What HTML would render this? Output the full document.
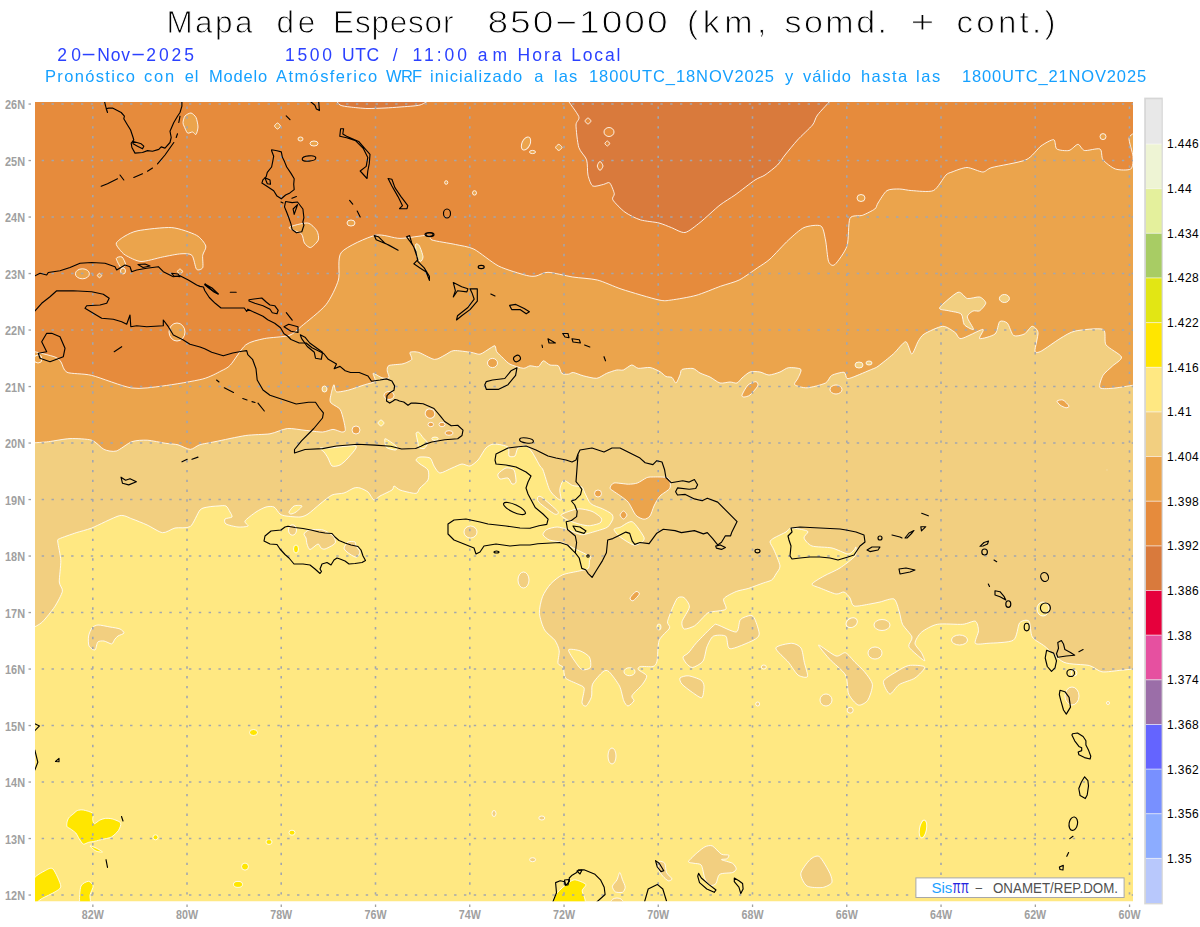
<!DOCTYPE html><html><head><meta charset="utf-8"><style>html,body{margin:0;padding:0;background:#fff;overflow:hidden}svg{display:block}text{font-family:"Liberation Sans",sans-serif}</style></head><body>
<svg width="1200" height="927" viewBox="0 0 1200 927">
<rect width="1200" height="927" fill="#fff"/>
<g opacity="0.995">
<text transform="translate(166.4 32.9) scale(1.0 1)" x="0" y="0" font-size="31.5" fill="#000" textLength="86.1" lengthAdjust="spacing" stroke="#fff" stroke-width="0.9">Mapa</text>
<text transform="translate(276.4 32.9) scale(1.0 1)" x="0" y="0" font-size="31.5" fill="#000" textLength="38.8" lengthAdjust="spacing" stroke="#fff" stroke-width="0.9">de</text>
<text transform="translate(333.1 32.9) scale(1.0 1)" x="0" y="0" font-size="31.5" fill="#000" textLength="120.3" lengthAdjust="spacing" stroke="#fff" stroke-width="0.9">Espesor</text>
<text transform="translate(487.5 32.9) scale(1.18 1)" x="0" y="0" font-size="31.5" fill="#000" textLength="152.6" lengthAdjust="spacing" stroke="#fff" stroke-width="0.9">850−1000</text>
<text transform="translate(687 32.9) scale(1.08 1)" x="0" y="0" font-size="31.5" fill="#000" textLength="73.5" lengthAdjust="spacing" stroke="#fff" stroke-width="0.9">(km,</text>
<text transform="translate(784.4 32.9) scale(1.08 1)" x="0" y="0" font-size="31.5" fill="#000" textLength="95" lengthAdjust="spacing" stroke="#fff" stroke-width="0.9">somd.</text>
<text transform="translate(910.6 32.9) scale(1.3 1)" x="0" y="0" font-size="31.5" fill="#000" textLength="15.5" lengthAdjust="spacing" stroke="#fff" stroke-width="0.9">+</text>
<text transform="translate(956.4 32.9) scale(1.05 1)" x="0" y="0" font-size="31.5" fill="#000" textLength="94.4" lengthAdjust="spacing" stroke="#fff" stroke-width="0.9">cont.)</text>
<text transform="translate(57.2 61) scale(1.0 1)" x="0" y="0" font-size="17.5" fill="#2a40ff" textLength="23.9" lengthAdjust="spacing">20</text>
<text transform="translate(97.2 61) scale(1.0 1)" x="0" y="0" font-size="17.5" fill="#2a40ff" textLength="32.8" lengthAdjust="spacing">Nov</text>
<text transform="translate(146.2 61) scale(1.0 1)" x="0" y="0" font-size="17.5" fill="#2a40ff" textLength="47.8" lengthAdjust="spacing">2025</text>
<text transform="translate(285.1 61) scale(1.0 1)" x="0" y="0" font-size="17.5" fill="#2a40ff" textLength="46.9" lengthAdjust="spacing">1500</text>
<text transform="translate(342 61) scale(1.0 1)" x="0" y="0" font-size="17.5" fill="#2a40ff" textLength="37.1" lengthAdjust="spacing">UTC</text>
<text transform="translate(392.8 61) scale(1.0 1)" x="0" y="0" font-size="17.5" fill="#2a40ff" textLength="11.6" lengthAdjust="spacing">/</text>
<text transform="translate(412.5 61) scale(1.0 1)" x="0" y="0" font-size="17.5" fill="#2a40ff" textLength="54.6" lengthAdjust="spacing">11:00</text>
<text transform="translate(477.8 61) scale(1.0 1)" x="0" y="0" font-size="17.5" fill="#2a40ff" textLength="29.2" lengthAdjust="spacing">am</text>
<text transform="translate(517.5 61) scale(1.0 1)" x="0" y="0" font-size="17.5" fill="#2a40ff" textLength="44" lengthAdjust="spacing">Hora</text>
<text transform="translate(571.2 61) scale(1.0 1)" x="0" y="0" font-size="17.5" fill="#2a40ff" textLength="49.2" lengthAdjust="spacing">Local</text>
<text transform="translate(45 82) scale(1.0 1)" x="0" y="0" font-size="16.5" fill="#14a0ff" textLength="90" lengthAdjust="spacing">Pronóstico</text>
<text transform="translate(144 82) scale(1.0 1)" x="0" y="0" font-size="16.5" fill="#14a0ff" textLength="30.1" lengthAdjust="spacing">con</text>
<text transform="translate(184.8 82) scale(1.0 1)" x="0" y="0" font-size="16.5" fill="#14a0ff" textLength="13.5" lengthAdjust="spacing">el</text>
<text transform="translate(209 82) scale(1.0 1)" x="0" y="0" font-size="16.5" fill="#14a0ff" textLength="58.2" lengthAdjust="spacing">Modelo</text>
<text transform="translate(276.1 82) scale(1.0 1)" x="0" y="0" font-size="16.5" fill="#14a0ff" textLength="101" lengthAdjust="spacing">Atmósferico</text>
<text transform="translate(386.1 82) scale(1.0 1)" x="0" y="0" font-size="16.5" fill="#14a0ff" textLength="36.1" lengthAdjust="spacing">WRF</text>
<text transform="translate(430.1 82) scale(1.0 1)" x="0" y="0" font-size="16.5" fill="#14a0ff" textLength="92" lengthAdjust="spacing">inicializado</text>
<text transform="translate(534.3 82) scale(1.0 1)" x="0" y="0" font-size="16.5" fill="#14a0ff" textLength="8.3" lengthAdjust="spacing">a</text>
<text transform="translate(553.9 82) scale(1.0 1)" x="0" y="0" font-size="16.5" fill="#14a0ff" textLength="23.3" lengthAdjust="spacing">las</text>
<text transform="translate(589 82) scale(1.0 1)" x="0" y="0" font-size="16.5" fill="#14a0ff" textLength="184.9" lengthAdjust="spacing">1800UTC_18NOV2025</text>
<text transform="translate(785.1 82) scale(1.0 1)" x="0" y="0" font-size="16.5" fill="#14a0ff" textLength="11.7" lengthAdjust="spacing">y</text>
<text transform="translate(802.9 82) scale(1.0 1)" x="0" y="0" font-size="16.5" fill="#14a0ff" textLength="48.1" lengthAdjust="spacing">válido</text>
<text transform="translate(861 82) scale(1.0 1)" x="0" y="0" font-size="16.5" fill="#14a0ff" textLength="46.1" lengthAdjust="spacing">hasta</text>
<text transform="translate(916 82) scale(1.0 1)" x="0" y="0" font-size="16.5" fill="#14a0ff" textLength="24.2" lengthAdjust="spacing">las</text>
<text transform="translate(961.9 82) scale(1.0 1)" x="0" y="0" font-size="16.5" fill="#14a0ff" textLength="184.2" lengthAdjust="spacing">1800UTC_21NOV2025</text>
<rect x="82.75" y="53.8" width="11.65" height="1.5" fill="#2a40ff"/><rect x="132.5" y="53.8" width="11.25" height="1.5" fill="#2a40ff"/>
</g>
<defs><clipPath id="mc"><rect x="35" y="102" width="1098" height="799.2"/></clipPath></defs>
<g clip-path="url(#mc)">
<rect x="35" y="100" width="1098" height="802" fill="#ffe882"/>
<path d="M32 628.3C33.3 627.5 39.5 624.7 42.3 622C45.1 619.3 52.2 610.5 54.7 606.7C57.2 602.9 61.8 594.4 62.4 591.3C63 588.2 59.5 585.9 59.3 582C59.1 578.1 61 565.4 60.8 560.4C60.6 555.4 57.9 544.7 57.8 542C57.6 539.3 57 540 59.3 538.8C61.6 537.6 72.2 534.1 76.2 532.7C80.3 531.4 86.3 530.1 91.7 528C97.1 525.9 114.4 516.9 119.4 515.7C124.4 514.6 128.3 517.6 131.8 518.8C135.3 520 143.3 523.3 147.2 525C151 526.7 159.1 532.3 162.6 532.7C166.1 533.1 171.5 528.8 175 528C178.5 527.2 187.2 528.8 190.3 526.5C193.4 524.2 197.8 512.4 200 510C202.2 507.6 205.8 507.5 208 507C210.2 506.5 215.8 506.1 218 506C220.2 505.9 224.5 505.2 226 506C227.5 506.8 229.2 510.6 230 512C230.8 513.4 232.6 516.1 232 517C231.4 517.9 225.8 518.1 225 519C224.2 519.9 224.4 523 226 524C227.6 525 235.2 526.8 238 527C240.8 527.2 247.1 526.8 248 526C248.9 525.2 244 522.8 245 521C246 519.2 253.4 513.8 256 512C258.6 510.2 263.8 507.6 266 507C268.2 506.4 272.2 506.1 274 507C275.8 507.9 278.5 512.9 280 514C281.5 515.1 283.5 515.6 286 516C288.5 516.4 297.2 517.2 300 517C302.8 516.8 305.5 515.6 308 514C310.5 512.4 317 506.4 320 504C323 501.6 329 496.4 332 495C335 493.6 341.2 493.9 344 493C346.8 492.1 352 488.6 354 488C356 487.4 358.2 487.5 360 488C361.8 488.5 366.2 490.5 368 492C369.8 493.5 372.5 499.5 374 500C375.5 500.5 377.8 497.2 380 496C382.2 494.8 390.2 491.2 392 490C393.8 488.8 393 486 394 486C395 486 397.8 489.1 400 490C402.2 490.9 409.9 492.6 412 493C414.1 493.4 416 493.6 417 493C418 492.4 418.6 489.6 420 488C421.4 486.4 427 482.2 428 480C429 477.8 429 472 428 470C427 468 421.5 465.2 420 464C418.5 462.8 416 460.9 416 460C416 459.1 418.2 457.2 420 457C421.8 456.8 428.2 456.9 430 458C431.8 459.1 432.8 464.1 434 466C435.2 467.9 437.8 472.8 440 473C442.2 473.2 449.2 469.1 452 468C454.8 466.9 459.8 464.2 462 464C464.2 463.8 468 466.5 470 466C472 465.5 476 462.2 478 460C480 457.8 484 450 486 448C488 446 491.2 444.1 494 444C496.8 443.9 506.1 445.5 508 447C509.9 448.5 508.1 454.9 509 456C509.9 457.1 513.9 457 515 456C516.1 455 516.6 449.2 518 448C519.4 446.8 524.2 445.5 526 446C527.8 446.5 530.2 449.5 532 452C533.8 454.5 538.6 463.8 540 466C541.4 468.2 541.8 467.1 543 470C544.2 472.9 547.8 486 549.4 489.4C551 492.8 554.5 495.9 556 497.2C557.5 498.5 560.5 500.8 561 499.8C561.5 498.8 559.5 491.8 559.8 489.4C560.1 487 562.1 480.9 563.7 480.4C565.3 479.9 570.4 484.7 572.7 485.5C575 486.3 580.3 486 581.8 486.8C583.3 487.6 583.3 489.9 584.4 492C585.5 494.1 588.5 501.6 590.8 503.7C593.1 505.8 599.9 507.5 602.5 508.8C605.1 510.1 610.3 512.7 611.6 514C612.9 515.3 613.3 517.6 612.8 519.2C612.3 520.8 609.6 525.5 607.7 527C605.8 528.5 599.7 530 597.3 530.8C594.9 531.6 590.2 532.9 588.3 533.4C586.4 533.9 583.6 534.9 581.8 534.7C580 534.5 575.8 532.8 574 532.1C572.2 531.5 569.6 530.1 567.5 529.5C565.4 528.9 559.8 527 557.2 527C554.6 527 548.6 528.5 546.8 529.5C545 530.5 542.7 533.4 543 534.7C543.3 536 547 539 549.4 540C551.8 541 559.2 541.4 562.4 542.5C565.6 543.6 572.4 547.5 575.3 549C578.2 550.5 583.8 553.1 585.7 554.1C587.6 555.1 590.3 555.9 590.8 556.7C591.3 557.5 589.8 559.1 589.5 560.6C589.2 562.1 589.6 567.1 588.3 568.4C587 569.7 582.4 570.2 579.2 571C576 571.8 566 573.3 562.4 574.9C558.8 576.5 553.2 581.2 550.7 583.9C548.2 586.6 543.9 593 542.5 596.7C541.1 600.4 539.1 609.1 539.4 613.3C539.7 617.5 542.6 626.6 544.6 630C546.6 633.4 553.2 637.8 555 640.4C556.8 643 558.8 647.9 559.2 650.8C559.6 653.7 557.5 661.2 558 663.3C558.5 665.4 562.4 665.7 563.3 667.5C564.2 669.3 563.6 675.8 565.4 677.9C567.2 680 575.6 682.9 578 684.2C580.4 685.5 583.7 686 584.2 688.3C584.7 690.6 581.7 700.7 582 702.9C582.3 705.1 585.1 706.8 586.2 706C587.4 705.2 590.7 699.4 591.5 696.7C592.3 694 591.1 687.3 592.5 684.2C593.9 681.1 600.9 673.3 603 671.7C605.1 670.1 606.9 669.9 609 671.7C611.1 673.5 617.8 682.6 619.6 686.2C621.4 689.9 622.7 698.3 623.8 700.8C624.8 703.3 626.7 706 628 706C629.3 706 633.5 702.1 634 700.8C634.5 699.5 630.9 697.7 632 695.6C633.1 693.5 640.7 686.7 642.5 684.2C644.3 681.7 647.2 677.6 646.7 675.8C646.2 674 639.1 670.8 638.3 669.6C637.5 668.4 638.6 666.9 640.4 666.5C642.2 666.1 650.9 667.2 653 666.5C655.1 665.8 656.2 664.5 657 661.2C657.8 658 657.6 644.6 659.2 640.4C660.8 636.2 668.6 630.3 669.6 628C670.6 625.7 667 624.6 667.5 621.7C668 618.8 672.4 608 673.8 605C675.1 602 676.7 598.6 678 597.7C679.3 596.8 682.8 596.5 684.2 597.7C685.6 598.9 689.7 604 689.4 607C689.1 610 682.6 619 682 621.7C681.4 624.5 682.6 628.5 684.2 629C685.8 629.5 692.2 627.2 694.6 625.8C697 624.4 701.2 619.2 703 617.5C704.8 615.8 706.4 613.3 709.2 612.3C712.1 611.3 724 610.9 725.8 609.2C727.6 607.5 722.4 601 723.8 598.8C725.1 596.5 733.1 592.8 736.2 591.5C739.4 590.2 745.4 589.4 748.8 588.3C752.1 587.2 760.4 584 763.3 583C766.2 582 770.1 581.1 771.7 580C773.3 578.9 775 575.8 776 574C777 572.2 780.2 569 780 566C779.8 563 775.2 553 774 550C772.8 547 770 543.5 770 542C770 540.5 772 539.2 774 538C776 536.8 783.9 533.2 786 532C788.1 530.8 788.8 528.2 791 528C793.2 527.8 801.9 529.5 804 530C806.1 530.5 808 531 808 532C808 533 803.5 536.2 804 538C804.5 539.8 808.5 544.8 812 546C815.5 547.2 827.5 547 832 548C836.5 549 845.2 553.8 848 554C850.8 554.2 853 550.9 854 550C855 549.1 855.9 546.2 856 547C856.1 547.8 857 553.4 855 556C853 558.6 843.9 565.5 840 568C836.1 570.5 827.5 574 824 576C820.5 578 812.5 582.5 812 584C811.5 585.5 817 586.8 820 588C823 589.2 833 593.5 836 594C839 594.5 842.2 591.5 844 592C845.8 592.5 848.8 596.2 850 598C851.2 599.8 851.5 605.2 854 606C856.5 606.8 866.8 604.5 870 604C873.2 603.5 877 602.6 880 602C883 601.4 891.6 597.8 894 599C896.4 600.2 898.2 608.5 899.3 611.7C900.4 614.9 900.9 621.1 902.5 624.3C904.1 627.5 911.2 634.2 912 637C912.8 639.8 908 644.1 908.8 646.5C909.6 648.9 916.3 654.2 918.3 656C920.3 657.8 924.3 661.1 924.7 660.8C925.1 660.4 922.7 655 921.5 652.8C920.3 650.6 915 645.9 915 643.3C915 640.7 918.7 634.6 921.5 632.2C924.3 629.9 932.1 625.3 937.3 624.3C942.4 623.3 958 624.7 962.7 624.3C967.5 623.9 973.3 620.4 975.3 621.2C977.3 622 978.5 627.9 978.5 630.7C978.5 633.5 974.1 641.7 975.3 643.3C976.5 644.9 983.2 643.7 988 643.3C992.8 642.9 1009.3 642.8 1013.3 640.2C1017.3 637.6 1017.7 625.1 1019.7 622.8C1021.7 620.4 1027.4 619.4 1029 621.2C1030.6 623 1030.3 633.8 1032.3 637C1034.3 640.2 1041 643.3 1045 646.5C1049 649.7 1058.5 659.9 1064 662.3C1069.5 664.7 1084.5 664.3 1089.3 665.5C1094 666.7 1098 671.2 1102 671.8C1106 672.4 1116.8 670.6 1121 670.2C1125.2 669.9 1134.1 668.9 1136 668.7L1136 98.5L32 98.5Z" fill="#f2cf80" stroke="#fff" stroke-opacity="0.85" stroke-width="1"/>
<path d="M320 448C320.8 447.5 325.5 448.2 330 448C334.5 447.8 353.8 444.8 356 446C358.2 447.2 350 455.6 348 458C346 460.4 342 464 340 465C338 466 333.5 466.9 332 466C330.5 465.1 329 459.8 328 458C327 456.2 325 453.2 324 452C323 450.8 319.2 448.5 320 448Z" fill="#ffe882" stroke="#fff" stroke-opacity="0.85" stroke-width="1"/>
<path d="M384.9 438.8C385.4 438.1 389.2 440.9 390.8 442C392.4 443.1 396.8 446.4 397.3 447.4C397.8 448.4 396.5 450 395.1 450C393.8 450 387.8 448.8 386.5 447.4C385.2 446 384.4 439.4 384.9 438.8Z" fill="#ffe882" stroke="#fff" stroke-opacity="0.85" stroke-width="1"/>
<path d="M416.1 433.4C416.2 432.2 417.9 431.8 418.8 432.3C419.7 432.8 422 436.4 423.1 437.7C424.2 439 427.4 441.6 427.5 443C427.6 444.4 425.3 447.9 424.2 448.5C423.1 449.1 419.6 448.2 418.8 447.4C418 446.6 418.1 443.8 417.8 442C417.4 440.2 416 434.6 416.1 433.4Z" fill="#ffe882" stroke="#fff" stroke-opacity="0.85" stroke-width="1"/>
<ellipse cx="435" cy="438.7" rx="3.2" ry="1.6" fill="#ffe882" stroke="#fff" stroke-opacity="0.85" stroke-width="1"/>
<path d="M289 512C289.4 511 292.4 506.8 294 506C295.6 505.2 301.8 505.2 302 506C302.2 506.8 297.4 511 296 512C294.6 513 291.9 514 291 514C290.1 514 288.6 513 289 512Z" fill="#ffe882" stroke="#fff" stroke-opacity="0.85" stroke-width="1"/>
<path d="M381 420C381.8 420 384 422.2 384 423C384 423.8 381.8 426 381 426C380.2 426 378 423.8 378 423C378 422.2 380.2 420 381 420Z" fill="#ffe882" stroke="#fff" stroke-opacity="0.85" stroke-width="1"/>
<path d="M614 529.5C614 528.2 618.3 528 620.6 527C622.9 526 629.4 520.5 632.3 521.8C635.2 523.1 642.9 534.7 644 537.3C645.1 539.9 642.6 541.5 641.3 542.5C640 543.5 636.2 545.6 633.6 545C631 544.4 623.1 539.2 620.6 537.3C618.1 535.4 614 530.8 614 529.5Z" fill="#ffe882" stroke="#fff" stroke-opacity="0.85" stroke-width="1"/>
<path d="M568.5 649.8C569.1 648.5 577.4 649.9 580 650.8C582.6 651.7 588.1 654.9 589.4 657C590.7 659.1 591.3 665.9 590.4 667.5C589.5 669.1 584 670.4 582 669.6C580 668.8 576.5 663.7 574.8 661.2C573.1 658.8 567.9 651.1 568.5 649.8Z" fill="#ffe882" stroke="#fff" stroke-opacity="0.85" stroke-width="1"/>
<ellipse cx="629.5" cy="671.7" rx="5.5" ry="4" fill="#ffe882" stroke="#fff" stroke-opacity="0.85" stroke-width="1"/>
<ellipse cx="659" cy="627" rx="2" ry="3" fill="#ffe882" stroke="#fff" stroke-opacity="0.85" stroke-width="1"/>
<ellipse cx="1074" cy="673" rx="3" ry="3" fill="#ffe882" stroke="#fff" stroke-opacity="0.85" stroke-width="1"/>
<ellipse cx="1043" cy="609" rx="6" ry="7" fill="#ffe882" stroke="#fff" stroke-opacity="0.85" stroke-width="1"/>
<path d="M498 474C498.8 472.6 504 468.5 506 468C508 467.5 512.8 468.2 514 470C515.2 471.8 516.2 480.2 516 482C515.8 483.8 513 484.5 512 484C511 483.5 509.5 478.6 508 478C506.5 477.4 501.2 479.5 500 479C498.8 478.5 497.2 475.4 498 474Z" fill="#f2cf80" stroke="#fff" stroke-opacity="0.85" stroke-width="1"/>
<path d="M537.8 497.2C538.1 496.6 539.2 495.4 541.7 497.2C544.2 499 556.2 509.3 557.8 511.4C559.4 513.5 557 515.1 554.6 514C552.2 512.9 541.1 504.5 539 502.4C536.9 500.3 537.5 497.8 537.8 497.2Z" fill="#f2cf80" stroke="#fff" stroke-opacity="0.85" stroke-width="1"/>
<ellipse cx="470.5" cy="532" rx="6.5" ry="6" fill="#f2cf80" stroke="#fff" stroke-opacity="0.85" stroke-width="1"/>
<path d="M561 515.3C561 514.2 566.5 512.2 568.8 511.4C571.1 510.6 576.3 508.8 579.2 508.8C582.1 508.8 589.2 510.2 592 511.4C594.8 512.5 600.2 516.5 601.2 518C602.2 519.5 601.5 522 600 523C598.5 524 591.9 525.5 589.5 525.7C587.1 525.9 583.1 525 580.5 524.4C577.9 523.8 571.2 521.6 568.8 520.5C566.4 519.4 561 516.4 561 515.3Z" fill="#f2cf80" stroke="#fff" stroke-opacity="0.85" stroke-width="1"/>
<ellipse cx="523.5" cy="580" rx="5.5" ry="8" fill="#f2cf80" stroke="#fff" stroke-opacity="0.85" stroke-width="1"/>
<ellipse cx="292.5" cy="530" rx="4" ry="5.2" fill="#f2cf80" stroke="#fff" stroke-opacity="0.85" stroke-width="1"/>
<path d="M304 534C304.4 533 306.6 530.5 309 530C311.4 529.5 320 529.2 323 530C326 530.8 331.4 534.5 333 536C334.6 537.5 335.5 540.9 335.5 542C335.5 543.1 334.3 544.1 333 545C331.7 545.9 326.5 548.6 325 549C323.5 549.4 321.9 548.6 321 548C320.1 547.4 319.4 543.8 318 544C316.6 544.2 311.4 549.5 310 549.5C308.6 549.5 307.5 545.4 307 544C306.5 542.6 306.4 539.2 306 538C305.6 536.8 303.6 535 304 534Z" fill="#f2cf80" stroke="#fff" stroke-opacity="0.85" stroke-width="1"/>
<path d="M344 548C344.1 546.8 346.6 542.8 348 542C349.4 541.2 354 541.5 355 542C356 542.5 355.4 544.8 356 546C356.6 547.2 359.9 550.6 360 552C360.1 553.4 357.9 556.5 357 557C356.1 557.5 354.2 556.6 353 556C351.8 555.4 348.1 553 347 552C345.9 551 343.9 549.2 344 548Z" fill="#f2cf80" stroke="#fff" stroke-opacity="0.85" stroke-width="1"/>
<path d="M88.6 636C89 633.8 90.8 629.4 92 628C93.2 626.6 95.8 625.1 98 625C100.2 624.9 107.2 626.5 110 627C112.8 627.5 118.2 628.2 120 629C121.8 629.8 124.2 632.1 124 633C123.8 633.9 119.2 635.2 118 636C116.8 636.8 115.6 638.3 114.8 639.3C114 640.3 113 643.7 111.7 643.9C110.4 644.1 105.7 641.2 104 641C102.3 640.8 98.9 640.9 97.8 642C96.7 643.1 96.1 649.5 95 650C93.9 650.5 89.8 647.8 89 646C88.2 644.2 88.2 638.2 88.6 636Z" fill="#f2cf80" stroke="#fff" stroke-opacity="0.85" stroke-width="1"/>
<ellipse cx="494" cy="813.5" rx="2" ry="3" fill="#f2cf80" stroke="#fff" stroke-opacity="0.85" stroke-width="1"/>
<ellipse cx="541.8" cy="818" rx="3" ry="2" fill="#f2cf80" stroke="#fff" stroke-opacity="0.85" stroke-width="1"/>
<ellipse cx="532.6" cy="859.7" rx="3" ry="2" fill="#f2cf80" stroke="#fff" stroke-opacity="0.85" stroke-width="1"/>
<ellipse cx="850.2" cy="710.2" rx="3" ry="3" fill="#f2cf80" stroke="#fff" stroke-opacity="0.85" stroke-width="1"/>
<ellipse cx="757.7" cy="704" rx="2" ry="2" fill="#f2cf80" stroke="#fff" stroke-opacity="0.85" stroke-width="1"/>
<ellipse cx="763.8" cy="667" rx="2.5" ry="2" fill="#f2cf80" stroke="#fff" stroke-opacity="0.85" stroke-width="1"/>
<path d="M683 657C683.3 655.7 686.6 654.8 688.3 653C690 651.2 693.6 645.9 696.7 642.5C699.8 639.1 710.7 628 713.3 625.8C715.9 623.6 714.6 624 717.5 624.8C720.4 625.6 733.4 632.6 736.2 632C739.1 631.4 738.6 621.7 740.4 619.6C742.2 617.5 749 615.4 750.8 615.4C752.6 615.4 754 617.2 755 619.6C756 622 759.5 631.6 759.2 634.2C759 636.8 756.6 638.6 753 640.4C749.4 642.2 733.4 649.3 730 648.8C726.6 648.2 727.9 637.8 725.8 636.2C723.7 634.7 715.6 634.9 713.3 636.2C710.9 637.6 708.3 643.6 707 646.7C705.7 649.8 704.8 658.6 703 661.2C701.2 663.9 694.6 667.2 692.5 667.5C690.4 667.8 687.4 664.6 686.2 663.3C685.1 662 682.7 658.3 683 657Z" fill="#f2cf80" stroke="#fff" stroke-opacity="0.85" stroke-width="1"/>
<path d="M680 678C680.8 677 685.7 675.5 688.3 675.8C690.9 676 698.8 678.7 700.8 680C702.8 681.3 703.9 684 704 686.2C704.1 688.5 703.3 696.9 701.9 697.7C700.5 698.5 695 694.2 692.5 692.5C690 690.8 683.6 686 682 684.2C680.4 682.4 679.2 679 680 678Z" fill="#f2cf80" stroke="#fff" stroke-opacity="0.85" stroke-width="1"/>
<ellipse cx="612" cy="756" rx="4" ry="8" fill="#f2cf80" stroke="#fff" stroke-opacity="0.85" stroke-width="1"/>
<path d="M775.8 648C776.2 645.6 788.6 643.3 791.7 643.3C794.9 643.3 799.4 645.6 801 648C802.6 650.4 803.5 658.7 804.3 662.3C805.1 665.9 808.3 675 807.5 676.6C806.7 678.2 800.4 676.8 798 675C795.6 673.2 791.3 665.7 788.5 662.3C785.7 658.9 775.4 650.4 775.8 648Z" fill="#f2cf80" stroke="#fff" stroke-opacity="0.85" stroke-width="1"/>
<path d="M818.6 645C819.4 644.6 832.6 655 836 656C839.4 657 843.1 652 845.5 652.8C847.9 653.6 852.6 659.9 855 662.3C857.4 664.7 862.3 669 864.5 671.8C866.7 674.6 872 680.9 872.4 684.5C872.8 688.1 869.5 697.7 867.7 700.3C865.9 702.9 860.6 705.8 858.2 705C855.8 704.2 850.3 697.8 848.7 694C847.1 690.2 847.9 679.4 845.5 675C843.1 670.6 833.1 663 829.7 659.2C826.3 655.5 817.8 645.4 818.6 645Z" fill="#f2cf80" stroke="#fff" stroke-opacity="0.85" stroke-width="1"/>
<ellipse cx="875" cy="653" rx="7" ry="6" fill="#f2cf80" stroke="#fff" stroke-opacity="0.85" stroke-width="1"/>
<path d="M883.5 681.3C884.3 678.5 892.8 674 896 672C899.2 670 905.2 666.1 908.8 665.5C912.4 664.9 923.9 665.4 924.7 667C925.5 668.6 918.2 675.8 915 678C911.8 680.2 902.4 682.5 899.3 684.5C896.1 686.5 891.8 694.4 889.8 694C887.8 693.6 882.7 684 883.5 681.3Z" fill="#f2cf80" stroke="#fff" stroke-opacity="0.85" stroke-width="1"/>
<ellipse cx="826" cy="700" rx="6" ry="6" fill="#f2cf80" stroke="#fff" stroke-opacity="0.85" stroke-width="1"/>
<ellipse cx="851.7" cy="622.7" rx="6" ry="4.5" fill="#f2cf80" stroke="#fff" stroke-opacity="0.85" stroke-width="1" transform="rotate(-30 851.7 622.7)"/>
<ellipse cx="882" cy="625" rx="8" ry="5.5" fill="#f2cf80" stroke="#fff" stroke-opacity="0.85" stroke-width="1"/>
<ellipse cx="959.5" cy="640" rx="8" ry="5" fill="#f2cf80" stroke="#fff" stroke-opacity="0.85" stroke-width="1"/>
<ellipse cx="1072" cy="696" rx="7" ry="9" fill="#f2cf80" stroke="#fff" stroke-opacity="0.85" stroke-width="1"/>
<path d="M800.8 873.6C801.2 870.3 807.7 861.8 810 859.7C812.3 857.6 816.8 854.9 819.3 856.6C821.8 858.3 828.5 870.3 830 873.6C831.5 876.9 832.7 881.1 831.7 882.8C830.8 884.5 825.5 887.1 822.4 887.5C819.3 887.9 809.7 887.7 807 886C804.3 884.3 800.4 876.9 800.8 873.6Z" fill="#f2cf80" stroke="#fff" stroke-opacity="0.85" stroke-width="1"/>
<path d="M688.5 861.5C689 860.1 695.6 854.1 697.7 852.3C699.8 850.5 703.2 847.6 705 846.8C706.8 846 710.2 845 712.3 845.9C714.4 846.8 719.4 853.1 721.5 854.2C723.6 855.4 728.1 854.5 728.8 855.1C729.5 855.7 727.9 858.2 727 858.8C726.1 859.3 720.8 859.1 721.5 859.7C722.2 860.3 730.7 862.2 732.5 863.3C734.3 864.4 736.2 867.6 736.2 868.8C736.2 869.9 734.6 871.8 732.5 872.5C730.4 873.2 721.8 872.9 719.7 874.3C717.6 875.7 717.1 882.1 716 883.5C714.9 884.9 711.9 885.9 710.5 885.3C709.1 884.7 706.1 881.4 705 878.9C703.9 876.4 702.7 867.2 701.3 865.2C699.9 863.2 695.6 863.8 694 863.3C692.4 862.8 688 862.9 688.5 861.5Z" fill="#f2cf80" stroke="#fff" stroke-opacity="0.85" stroke-width="1"/>
<path d="M619.8 872.5C620.4 872.5 621.8 878 622.5 879.8C623.2 881.6 625.2 885.6 625.2 887.2C625.2 888.8 623.8 891.7 622.5 892.3C621.2 892.9 616.5 892.5 615.2 891.8C613.9 891 612.2 887.7 612.4 886.2C612.6 884.8 616.1 881.5 617 879.8C617.9 878.1 619.1 872.5 619.8 872.5Z" fill="#f2cf80" stroke="#fff" stroke-opacity="0.85" stroke-width="1"/>
<ellipse cx="617" cy="902" rx="6" ry="4" fill="#f2cf80" stroke="#fff" stroke-opacity="0.85" stroke-width="1"/>
<path d="M659.2 861.5C660 860.8 663.8 861.9 664.7 863.3C665.6 864.7 665.6 870.5 666.5 872.5C667.4 874.5 671.8 877.9 672 878.9C672.2 879.9 669.4 881.1 668.3 880.8C667.1 880.4 664.1 877.7 662.8 876.2C661.5 874.7 658.7 870.6 658.2 868.8C657.8 867 658.4 862.2 659.2 861.5Z" fill="#f2cf80" stroke="#fff" stroke-opacity="0.85" stroke-width="1"/>
<ellipse cx="1108" cy="703" rx="1.5" ry="1.5" fill="#f2cf80" stroke="#fff" stroke-opacity="0.85" stroke-width="1"/>
<path d="M67 822.5C67.2 821.4 68 818.8 68.8 817.8C69.5 816.8 71.7 815.2 72.8 814.3C73.9 813.4 76.2 811 77.5 810.5C78.8 810 81.4 809.7 83.3 810C85.2 810.3 91.5 812 92.7 813.2C93.9 814.4 92.5 818.3 92.7 819.6C92.9 820.9 93.5 823.6 94.4 823.7C95.3 823.8 98.3 820.9 99.7 820.2C101.1 819.5 103.9 818.5 105.5 818.4C107.1 818.2 110.6 818.4 112.5 819C114.4 819.6 120 821.5 120.7 823C121.4 824.5 119.5 828.9 118.3 830.7C117.1 832.5 113.3 836 111.3 837.1C109.3 838.2 104 838.9 102 839.4C100 839.9 96.7 840.8 95 841.2C93.3 841.6 90.1 841.9 88.6 842.3C87.1 842.7 84.5 844.5 83.3 844.1C82.1 843.7 80.2 840.2 79.2 838.8C78.3 837.4 76.8 834.2 75.8 833C74.7 831.8 71.6 829.7 70.5 828.9C69.4 828.1 67.4 827.4 67 826.6C66.6 825.8 66.8 823.6 67 822.5Z" fill="#ffe600" stroke="#fff" stroke-opacity="0.85" stroke-width="1"/>
<path d="M90 846C90 845.6 94.4 847.2 96 848C97.6 848.8 102.5 851.6 102.5 852C102.5 852.4 97.6 851.8 96 851C94.4 850.2 90 846.4 90 846Z" fill="#ffe600" stroke="#fff" stroke-opacity="0.85" stroke-width="1"/>
<path d="M33 880C34.5 875.9 42.9 871.9 45.4 870.5C47.9 869.1 51.1 867.1 53 869C54.9 870.9 60.6 883.1 60.8 886C61 888.9 57 890.5 54.7 892C52.4 893.5 45 896.9 42.3 898.3C39.6 899.7 34.2 905.3 33 903C31.8 900.7 31.4 884.1 33 880Z" fill="#ffe600" stroke="#fff" stroke-opacity="0.85" stroke-width="1"/>
<path d="M81 886C82.1 883.3 87.1 881.3 88.6 881.3C90.1 881.3 93 884.3 93.2 886C93.4 887.7 90.4 892.9 90 895C89.6 897.1 91.2 902 90 903C88.8 904 81.1 905.1 80 903C78.9 900.9 79.9 888.7 81 886Z" fill="#ffe600" stroke="#fff" stroke-opacity="0.85" stroke-width="1"/>
<ellipse cx="253.5" cy="732.5" rx="4" ry="3" fill="#ffe600" stroke="#fff" stroke-opacity="0.85" stroke-width="1"/>
<ellipse cx="238" cy="884.4" rx="4.5" ry="3" fill="#ffe600" stroke="#fff" stroke-opacity="0.85" stroke-width="1"/>
<ellipse cx="245" cy="866.6" rx="3.5" ry="3.5" fill="#ffe600" stroke="#fff" stroke-opacity="0.85" stroke-width="1"/>
<ellipse cx="269" cy="842" rx="3" ry="2.5" fill="#ffe600" stroke="#fff" stroke-opacity="0.85" stroke-width="1"/>
<ellipse cx="292" cy="832.7" rx="3" ry="2.5" fill="#ffe600" stroke="#fff" stroke-opacity="0.85" stroke-width="1"/>
<ellipse cx="155.5" cy="837.3" rx="2.5" ry="2.5" fill="#ffe600" stroke="#fff" stroke-opacity="0.85" stroke-width="1"/>
<path d="M553.8 903C550.4 901.7 555.7 895.1 557.4 892.7C559.1 890.3 565.3 885.1 567.5 883.5C569.7 881.9 572.5 879.7 574.8 879.8C577.1 879.9 584.9 883 585.8 884.4C586.7 885.8 582.4 888.5 582.2 890.8C582 893.1 587.6 901.5 584 903C580.4 904.5 557.1 904.3 553.8 903Z" fill="#ffe600" stroke="#fff" stroke-opacity="0.85" stroke-width="1"/>
<ellipse cx="923" cy="829" rx="3.5" ry="9" fill="#ffe600" stroke="#fff" stroke-opacity="0.85" stroke-width="1" transform="rotate(10 923 829)"/>
<ellipse cx="296" cy="549" rx="2.5" ry="4" fill="#ffe600" stroke="#fff" stroke-opacity="0.85" stroke-width="1"/>
<path d="M32 443C34.1 442.8 43.8 442.2 48.5 441.7C53.2 441.1 64.6 438.8 70 438.6C75.4 438.4 87.5 438.9 91.7 440.2C96 441.5 100.9 448 104 449.4C107.1 450.8 112.8 452 116.3 451C119.8 450 127.9 443.1 131.8 441.7C135.7 440.3 143 440 147.2 440.2C151.4 440.4 161.8 442.7 165.7 443.3C169.5 443.9 174.9 444 178 444.8C181.1 445.6 187.6 449.4 190.3 449.4C193 449.4 196.5 445.8 199.6 444.8C202.7 443.8 209.2 442.9 215 441.7C220.8 440.5 238.9 436.5 245.8 435.5C252.7 434.5 264.8 434.6 270 433.8C275.2 432.9 283.1 428.9 287.5 428.5C291.9 428.1 300.6 429.9 305 430.3C309.4 430.7 319 432.1 322.5 432C326 431.9 330.6 429.4 333 429.4C335.4 429.4 340.2 431.9 341.8 432C343.3 432.1 345.1 431.8 345.3 430.3C345.5 428.8 344.2 422.4 343.5 419.8C342.8 417.1 341.6 411.4 340 409.2C338.4 407.1 331.5 404.2 330.4 402.2C329.3 400.3 330.8 395.7 331.2 393.5C331.7 391.3 333.2 385 333.9 384.8C334.6 384.5 334.6 391.1 336.5 391.8C338.4 392.4 345.2 390.9 348.8 390C352.2 389.1 361.2 385.8 364.5 384.8C367.8 383.7 373.9 382.7 375 381.2C376.1 379.8 372.4 373.8 373.2 373.4C374.1 373 380 377.2 382 377.8C384 378.3 388.3 378.6 389 377.8C389.7 376.9 387.2 372.3 387.2 370.8C387.2 369.2 387 366.4 389 365.5C391 364.6 400.2 364.5 403 363.8C405.8 363 410.9 360.8 411.8 359.4C412.6 358 409.1 353.3 410 352.4C410.9 351.5 415.7 351.5 418.8 352.4C421.8 353.3 431.2 359.1 434.5 359.4C437.8 359.7 442.6 356.1 445 355C447.4 353.9 450.5 350.9 453.8 350.6C457 350.3 468 351.9 471.2 352.4C474.5 352.8 477.7 354.7 480 354.2C482.3 353.7 488.1 349.4 490 348.3C491.9 347.2 494.2 345.4 495 345.8C495.8 346.2 495.7 350.1 496.7 351.7C497.7 353.3 501.6 356.7 503.3 358.3C505 359.9 507.5 362.9 510 364.2C512.5 365.4 520.8 368.1 523.3 368.3C525.8 368.5 528.1 366 530 365.8C531.9 365.6 536.6 367.3 538.3 366.7C540 366.1 541.8 361 543.3 360.8C544.8 360.6 548.1 364.4 550 365C551.9 365.6 556.8 364.8 558.3 365.8C559.8 366.8 560.5 372.2 561.7 373.3C563 374.4 566.8 374.3 568.3 374.2C569.8 374.1 571.4 372.3 573.3 372.5C575.2 372.7 580.4 375.1 583.3 375.8C586.2 376.5 593.8 378.6 596.7 378.3C599.6 378 604.2 374.3 606.7 373.3C609.2 372.3 614.6 370.4 616.7 370C618.8 369.6 621.4 370.6 623.3 370C625.2 369.4 629.8 365.2 631.7 365C633.6 364.8 636 368 638.3 368.3C640.6 368.6 647.3 367.1 650 367.5C652.7 367.9 658 370.6 660 371.7C662 372.8 664.5 375.8 666 376.5C667.5 377.2 670.8 376.7 672 377.5C673.2 378.3 675 383.3 676 383C677 382.7 679.2 376.7 680 375C680.8 373.3 680.4 370.3 682 369.5C683.6 368.7 690.8 368.1 693 368.5C695.2 368.9 697.9 371.9 700 373C702.1 374.1 707.5 375.8 710 377C712.5 378.2 717.5 382.4 720 383C722.5 383.6 727.9 382 730 382C732.1 382 735.5 383.5 737 383C738.5 382.5 740.4 379.4 742 378C743.6 376.6 747.8 372.8 750 372C752.2 371.2 757.6 371.6 760 372C762.4 372.4 766.5 375 769 375C771.5 375 777.6 372.9 780 372C782.4 371.1 785.9 368 788.5 367.7C791.1 367.4 799.6 367.9 800.8 369.3C802 370.7 798.6 376.6 797.8 378.5C797 380.4 793.6 383.5 794.7 384.7C795.9 385.9 803.1 388 807 387.8C810.9 387.6 822.4 384.6 825.5 383C828.6 381.4 829.4 376.7 831.7 375.4C834 374.1 842.1 371.9 844 372.3C845.9 372.7 845.8 377.9 847 378.5C848.2 379.1 850.2 378.1 853.3 377C856.4 375.9 868.7 370.6 871.8 369.3C874.9 368 875.3 368.2 878 366.3C880.7 364.4 889.8 357.1 893.3 354C896.8 350.9 903.4 341.7 905.7 341.7C908 341.7 910.3 354 911.8 354C913.3 354 916.5 344.2 918 341.7C919.5 339.2 921.1 335.9 924.2 334C927.3 332.1 938.9 326.5 942.7 326.3C946.6 326.1 952.7 330.9 955 332.4C957.3 333.9 957.7 339 961.2 338.6C964.7 338.2 980.5 329.4 982.8 329.4C985.1 329.4 978.2 338 979.7 338.6C981.2 339.2 992.5 336.1 995 334C997.5 331.9 998.2 323 999.7 321.6C1001.2 320.2 1005.7 321.5 1007.4 323.2C1009.1 324.9 1011.5 334.1 1013.6 335.5C1015.7 336.9 1022.1 335.1 1024.4 334C1026.7 332.9 1030.3 326.5 1032 326.3C1033.7 326.1 1037.6 329.3 1038 332.4C1038.4 335.5 1034.6 348.7 1035 351C1035.4 353.3 1038.3 352.6 1041.4 351C1044.5 349.4 1055.8 341.1 1060 338.6C1064.2 336.1 1069.9 332.1 1075.3 331C1080.7 329.9 1099.2 327.7 1103 329.4C1106.8 331.1 1103.7 341.4 1106 344.8C1108.3 348.2 1120.7 354.3 1121.5 357C1122.3 359.7 1114.6 363.9 1112.3 366.2C1110 368.5 1104.5 372.7 1103 375.4C1101.5 378.1 1098.5 386.2 1100 387.8C1101.5 389.4 1110.5 388.4 1115 388C1119.5 387.6 1133.4 385.1 1136 384.7L1136 98.5L32 98.5Z" fill="#eba44c" stroke="#fff" stroke-opacity="0.85" stroke-width="1"/>
<path d="M742 395C742.5 393.5 746.2 386.7 748 385C749.8 383.3 754.8 381.5 756 381.6C757.2 381.7 758.5 384.3 757.7 386C757 387.7 751.7 393.6 750 395C748.3 396.4 745 397 744 397C743 397 741.5 396.5 742 395Z" fill="#eba44c" stroke="#fff" stroke-opacity="0.85" stroke-width="1"/>
<ellipse cx="836" cy="389.5" rx="6" ry="4.5" fill="#eba44c" stroke="#fff" stroke-opacity="0.85" stroke-width="1"/>
<path d="M1057 401C1057.4 400.4 1061.5 399.4 1063 400C1064.5 400.6 1068.6 405 1069 406C1069.4 407 1067.1 407.9 1066 407.8C1064.9 407.7 1061.1 405.9 1060 405C1058.9 404.1 1056.6 401.6 1057 401Z" fill="#eba44c" stroke="#fff" stroke-opacity="0.85" stroke-width="1"/>
<ellipse cx="492.5" cy="363" rx="5" ry="4.6" fill="#eba44c" stroke="#fff" stroke-opacity="0.85" stroke-width="1"/>
<ellipse cx="356" cy="430" rx="4" ry="4" fill="#eba44c" stroke="#fff" stroke-opacity="0.85" stroke-width="1"/>
<ellipse cx="430" cy="413.6" rx="4.9" ry="4.6" fill="#eba44c" stroke="#fff" stroke-opacity="0.85" stroke-width="1" transform="rotate(30 430 413.6)"/>
<ellipse cx="430.8" cy="424.5" rx="2.8" ry="2.2" fill="#eba44c" stroke="#fff" stroke-opacity="0.85" stroke-width="1"/>
<ellipse cx="442" cy="424.5" rx="3" ry="2.2" fill="#eba44c" stroke="#fff" stroke-opacity="0.85" stroke-width="1"/>
<ellipse cx="449" cy="433" rx="4" ry="2.3" fill="#eba44c" stroke="#fff" stroke-opacity="0.85" stroke-width="1"/>
<ellipse cx="389" cy="395.5" rx="5" ry="4" fill="#eba44c" stroke="#fff" stroke-opacity="0.85" stroke-width="1"/>
<path d="M610 488C610.1 487 611.7 483.5 614 483C616.3 482.5 625.5 484.2 628.4 484.2C631.3 484.2 635.1 483.8 637.4 483C639.7 482.2 644.7 478.6 646.5 477.8C648.3 477.1 649.3 477 652 477C654.7 477 665.8 476.6 668 478C670.2 479.4 671 485.8 670 488C669 490.2 662 493.8 660 496C658 498.2 655.2 503.5 654 506C652.8 508.5 651.2 514.4 650 516C648.8 517.6 645.8 519.3 644 519.2C642.2 519.1 638 517.4 636 515.3C634 513.2 630.3 504.8 628.4 502.4C626.5 500 622.6 497.5 620.6 496C618.6 494.5 614.1 491.7 612.8 490.7C611.5 489.7 609.9 489 610 488Z" fill="#eba44c" stroke="#fff" stroke-opacity="0.85" stroke-width="1"/>
<ellipse cx="598" cy="493.5" rx="3.5" ry="3.5" fill="#eba44c" stroke="#fff" stroke-opacity="0.85" stroke-width="1"/>
<path d="M623.5 511C624.4 511 627 514 627 515C627 516 624.4 519 623.5 519C622.6 519 620 516 620 515C620 514 622.6 511 623.5 511Z" fill="#eba44c" stroke="#fff" stroke-opacity="0.85" stroke-width="1"/>
<path d="M630 598C630.4 596.8 634.8 592 636 591.5C637.2 591 639.8 592.8 639.4 594C639 595.2 634.2 600.3 633 600.8C631.8 601.3 629.6 599.2 630 598Z" fill="#eba44c" stroke="#fff" stroke-opacity="0.85" stroke-width="1"/>
<ellipse cx="1107" cy="470" rx="0.1" ry="0.1" fill="#eba44c" stroke="#fff" stroke-opacity="0.85" stroke-width="1"/>
<path d="M939.6 307.8C940.8 305.5 954.5 293.5 958 292.3C961.5 291.1 964.6 297.9 967.3 298.5C970 299.1 977.4 296.4 979.7 297C982 297.6 985.8 301.3 985.8 303C985.8 304.7 981.3 309.8 979.7 310.8C978.1 311.8 974.5 310.2 973 311C971.5 311.8 967.2 314.7 967.3 317C967.4 319.3 973.9 328.4 973.5 329.4C973.1 330.4 965.8 326.6 964.3 324.7C962.8 322.8 963.1 315.7 961.2 314C959.3 312.3 951.5 311.6 948.8 310.8C946.1 310 938.5 310.1 939.6 307.8Z" fill="#f2cf80" stroke="#fff" stroke-opacity="0.85" stroke-width="1"/>
<ellipse cx="1004.4" cy="298.5" rx="5" ry="4" fill="#f2cf80" stroke="#fff" stroke-opacity="0.85" stroke-width="1"/>
<path d="M415.6 244.5C415.9 243.1 418.4 244.2 419.3 245.7C420.2 247.2 422.8 254.6 423 256.6C423.2 258.6 421.4 261.4 420.6 261.4C419.9 261.4 417.6 258.7 417 256.6C416.4 254.5 415.3 245.9 415.6 244.5Z" fill="#f2cf80" stroke="#fff" stroke-opacity="0.85" stroke-width="1"/>
<ellipse cx="859" cy="365" rx="4" ry="3" fill="#f2cf80" stroke="#fff" stroke-opacity="0.85" stroke-width="1"/>
<ellipse cx="869" cy="363" rx="3" ry="2" fill="#f2cf80" stroke="#fff" stroke-opacity="0.85" stroke-width="1"/>
<ellipse cx="324.5" cy="389" rx="2.5" ry="3" fill="#f2cf80" stroke="#fff" stroke-opacity="0.85" stroke-width="1"/>
<path d="M32 351C34.9 351.8 51.4 355.6 55 357C58.6 358.4 59.5 360.1 61 362C62.5 363.9 63.2 370.6 67 372.3C70.8 374 83.6 373.4 91.7 375.4C99.8 377.4 122.9 386.7 131.8 388C140.7 389.3 153.7 387.1 162.6 386C171.5 384.9 195.4 380.9 202.7 379C210 377.1 217.5 372.8 221 371C224.5 369.2 227.3 368.3 230.4 365C233.5 361.7 241.6 348.1 245.8 344.8C250 341.5 258.9 339.8 264.3 338.6C269.7 337.4 284.4 337 289 335.5C293.6 334 296.8 330.2 301.4 326.3C306 322.4 321.4 310.5 326 304.7C330.6 298.9 336.5 286.6 338.4 280C340.3 273.4 336.8 257.9 341.4 252.3C346 246.7 368.1 237 375.4 235.3C382.7 233.6 393.4 238.4 400 238.4C406.6 238.4 423.8 235.1 427.8 235.3C431.8 235.5 428.5 238.8 432 240C435.5 241.2 450.2 243.3 455.5 244.5C460.8 245.7 468.6 246.5 474 249.2C479.4 251.9 492.1 262.8 498.7 266.1C505.2 269.4 521.7 274.2 526.4 275.4C531.1 276.6 533.3 276.4 536 276C538.7 275.6 543.4 272.2 548 272.3C552.6 272.4 566.5 276 572.7 277C578.9 278 591.1 278.5 597.3 280C603.5 281.5 614.3 286.8 622 289.3C629.7 291.8 652.8 298.7 659 300C665.2 301.3 666.8 300.6 671.4 300C676 299.4 689.8 297.1 696 295.4C702.2 293.7 715.3 288.1 720.7 286.2C726.1 284.3 734.6 282.3 739.2 280C743.8 277.7 753.9 270.3 757.7 267.7C761.6 265.1 766.1 262.5 770 259C773.9 255.5 784.2 243.9 788.5 240C792.8 236.1 800 229.3 804 227.6C808 225.8 818.2 224.4 820.9 226C823.6 227.6 824.5 235.6 825.5 240C826.5 244.4 827.4 258.4 828.6 261.5C829.8 264.6 832.5 266.5 834.8 264.6C837.1 262.7 845.1 251.8 847 246C848.9 240.2 848.1 222.1 850 218.3C851.9 214.5 859.4 216.5 862.5 215.3C865.6 214.1 872.9 210.5 874.8 209C876.7 207.5 876.5 205.3 878 203C879.5 200.7 884.3 192.3 887 190.6C889.7 188.8 896.4 189 899.5 189C902.6 189 907.6 190.4 911.8 190.6C916 190.8 929.1 192.5 933.4 190.6C937.6 188.7 943.5 177.5 945.8 175.2C948.1 172.9 949.4 173 952 172C954.6 171 963.1 167.5 967 167.5C970.9 167.5 979.7 172 982.8 172C985.9 172 986.6 169 992 167.5C997.4 166 1019.9 162.5 1026 159.8C1032.1 157.1 1037.5 148.5 1041 146C1044.5 143.5 1051.7 139.3 1053.7 139.7C1055.7 140.1 1054.9 147.7 1056.8 149C1058.7 150.3 1066.3 151.1 1069 150.5C1071.7 149.9 1076.1 144.3 1078 144.3C1079.9 144.3 1081.8 149.9 1084.5 150.5C1087.2 151.1 1097.7 147.8 1100 149C1102.3 150.2 1101.1 157.3 1103 159.8C1104.9 162.3 1111.9 167.8 1115.4 169C1118.9 170.2 1128.6 170.5 1130.8 169C1133 167.5 1133.2 160.6 1133 156.7C1132.8 152.8 1128.6 141.1 1129 138C1129.4 134.9 1135.1 132.8 1136 132L1136 98.5L32 98.5Z" fill="#e68b3c" stroke="#fff" stroke-opacity="0.85" stroke-width="1"/>
<path d="M116.3 243C117 241.3 122.3 237.5 125 236C127.7 234.5 132.2 231.8 138 230.7C143.8 229.6 164.5 227 171.8 227.6C179.1 228.2 192.2 233 196.5 235.3C200.8 237.6 205 243.5 205.8 246C206.6 248.5 203.1 252.6 202.7 255.3C202.3 258 203.5 266 202.7 267.7C201.9 269.4 197.8 270.8 196.5 269.2C195.2 267.6 193.8 257.2 191.9 255.3C190 253.4 184.7 253.6 181 253.8C177.3 254 167.6 256 162.6 257C157.6 258 145.6 261.7 141 261.5C136.4 261.3 128.3 256.8 125.6 255.3C122.9 253.8 120.6 250.7 119.4 249.2C118.2 247.7 115.6 244.7 116.3 243Z" fill="#eba44c" stroke="#fff" stroke-opacity="0.85" stroke-width="1"/>
<path d="M116.3 258.4C116.4 257.1 120.8 256.2 122 257C123.2 257.8 125.7 263.3 125.6 264.6C125.5 265.9 122.2 268.5 121 267.7C119.8 266.9 116.2 259.7 116.3 258.4Z" fill="#eba44c" stroke="#fff" stroke-opacity="0.85" stroke-width="1"/>
<ellipse cx="82.4" cy="273.8" rx="7" ry="5" fill="#eba44c" stroke="#fff" stroke-opacity="0.85" stroke-width="1"/>
<path d="M99.5 273.3C100 273.3 101.7 274.9 101.7 275.5C101.7 276.1 100 277.7 99.5 277.7C99 277.7 97.3 276.1 97.3 275.5C97.3 274.9 99 273.3 99.5 273.3Z" fill="#eba44c" stroke="#fff" stroke-opacity="0.85" stroke-width="1"/>
<path d="M289 227.6C289.8 226.2 304 222.6 307.5 223C311 223.4 315.4 228.6 316.8 230.7C318.2 232.8 319.1 237.9 318.3 240C317.5 242.1 312.3 247.2 310.6 247.6C308.9 248 305.5 244.7 304.4 243C303.2 241.3 303.3 235.7 301.4 233.8C299.5 231.9 288.2 228.9 289 227.6Z" fill="#eba44c" stroke="#fff" stroke-opacity="0.85" stroke-width="1"/>
<path d="M185 116C186 114.8 189.6 112.8 191 113C192.4 113.2 195.1 115.8 196 117.5C196.9 119.2 198 124.9 198 127C198 129.1 196.7 133.8 196 134.4C195.3 135 193.6 132.2 192.5 132C191.4 131.8 188.6 133.8 187.5 133C186.4 132.2 184.6 127.3 184 126C183.4 124.7 182.9 123.8 183 122.5C183.1 121.2 184 117.2 185 116Z" fill="#eba44c" stroke="#fff" stroke-opacity="0.85" stroke-width="1"/>
<ellipse cx="177" cy="332" rx="8" ry="9" fill="#eba44c" stroke="#fff" stroke-opacity="0.85" stroke-width="1"/>
<path d="M277.5 123C278.2 123 280.5 125.2 280.5 126C280.5 126.8 278.2 129 277.5 129C276.8 129 274.5 126.8 274.5 126C274.5 125.2 276.8 123 277.5 123Z" fill="#eba44c" stroke="#fff" stroke-opacity="0.85" stroke-width="1"/>
<ellipse cx="300.5" cy="139" rx="2.5" ry="2" fill="#eba44c" stroke="#fff" stroke-opacity="0.85" stroke-width="1"/>
<ellipse cx="314" cy="143.5" rx="4" ry="2.5" fill="#eba44c" stroke="#fff" stroke-opacity="0.85" stroke-width="1"/>
<ellipse cx="351" cy="223" rx="4" ry="3" fill="#eba44c" stroke="#fff" stroke-opacity="0.85" stroke-width="1"/>
<path d="M180 269C180.7 269 182.6 270.9 182.6 271.5C182.6 272.1 180.7 274 180 274C179.3 274 177.4 272.1 177.4 271.5C177.4 270.9 179.3 269 180 269Z" fill="#eba44c" stroke="#fff" stroke-opacity="0.85" stroke-width="1"/>
<ellipse cx="123" cy="271" rx="2.5" ry="3" fill="#eba44c" stroke="#fff" stroke-opacity="0.85" stroke-width="1"/>
<ellipse cx="526" cy="143.5" rx="4" ry="7" fill="#eba44c" stroke="#fff" stroke-opacity="0.85" stroke-width="1" transform="rotate(25 526 143.5)"/>
<ellipse cx="532.5" cy="152" rx="3" ry="1.6" fill="#eba44c" stroke="#fff" stroke-opacity="0.85" stroke-width="1"/>
<path d="M558.8 144.3C559.6 144.3 562 146.6 562 147.4C562 148.2 559.6 150.5 558.8 150.5C558 150.5 555.6 148.2 555.6 147.4C555.6 146.6 558 144.3 558.8 144.3Z" fill="#eba44c" stroke="#fff" stroke-opacity="0.85" stroke-width="1"/>
<ellipse cx="446.2" cy="182.5" rx="1.6" ry="1.8" fill="#eba44c" stroke="#fff" stroke-opacity="0.85" stroke-width="1"/>
<ellipse cx="474.5" cy="192.9" rx="2" ry="2.2" fill="#eba44c" stroke="#fff" stroke-opacity="0.85" stroke-width="1"/>
<ellipse cx="861" cy="198" rx="4" ry="3.5" fill="#eba44c" stroke="#fff" stroke-opacity="0.85" stroke-width="1"/>
<ellipse cx="1103" cy="136.6" rx="3" ry="3" fill="#eba44c" stroke="#fff" stroke-opacity="0.85" stroke-width="1"/>
<ellipse cx="38" cy="359" rx="4" ry="4" fill="#eba44c" stroke="#fff" stroke-opacity="0.85" stroke-width="1"/>
<path d="M566.5 98.5C568 100.8 577.6 113.3 578.8 116.6C580 119.9 576 121.2 576 125C576 128.8 577.5 143.1 578.8 147.4C580.1 151.8 585.5 156.3 586.6 159.8C587.8 163.3 587.2 171.9 588 175.2C588.8 178.5 590.8 184.8 592.7 186C594.6 187.2 601.4 184.8 603.5 184.4C605.6 184 608.4 181.7 609.7 182.9C611.1 184.1 613.9 191.6 614.3 193.7C614.7 195.8 611.5 197.5 612.8 199.8C614.1 202.1 621.5 209.7 625 212.2C628.5 214.7 636.2 218.6 640.5 219.9C644.8 221.2 655.1 222 659 223C662.9 224 668.1 226.4 671.4 227.6C674.6 228.8 681.4 233.1 685 232.5C688.6 231.9 695.6 225.9 700 222.5C704.4 219.1 715.6 208.4 720 205C724.4 201.6 730.6 198.1 735 195C739.4 191.9 751.2 182.5 755 180C758.8 177.5 762.2 176.9 765 175C767.8 173.1 775 167.5 777.5 165C780 162.5 782.5 158.1 785 155C787.5 151.9 794.1 143.8 797.5 140C800.9 136.2 810 128.1 812.5 125C815 121.9 815 118.3 817.5 115C820 111.7 830.6 100.6 832.5 98.5Z" fill="#d97a3c" stroke="#fff" stroke-opacity="0.85" stroke-width="1"/>
<path d="M335 98.5C335.6 99.3 338.1 103.9 340 105C341.9 106.1 346.6 106.6 350 107C353.4 107.4 362.6 108.4 367 108.5C371.4 108.6 380.9 108.2 385 108C389.1 107.8 395.6 107.4 400 107C404.4 106.6 416 106.1 420 105C424 103.9 430.5 99.3 432 98.5Z" fill="#d97a3c" stroke="#fff" stroke-opacity="0.85" stroke-width="1"/>
<path d="M588 118C588.8 118 591 120.2 591 121C591 121.8 588.8 124 588 124C587.2 124 585 121.8 585 121C585 120.2 587.2 118 588 118Z" fill="#e68b3c" stroke="#fff" stroke-opacity="0.85" stroke-width="1"/>
<ellipse cx="609" cy="132" rx="5" ry="4.5" fill="#e68b3c" stroke="#fff" stroke-opacity="0.85" stroke-width="1"/>
<path d="M607.3 141C607.9 141 609.7 142.9 609.7 143.5C609.7 144.1 607.9 146 607.3 146C606.7 146 604.9 144.1 604.9 143.5C604.9 142.9 606.7 141 607.3 141Z" fill="#e68b3c" stroke="#fff" stroke-opacity="0.85" stroke-width="1"/>
<path d="M600 161.3C600.7 161.3 603 164.8 603 166C603 167.2 600.7 170.5 600 170.5C599.3 170.5 597.3 167.2 597.3 166C597.3 164.8 599.3 161.3 600 161.3Z" fill="#e68b3c" stroke="#fff" stroke-opacity="0.85" stroke-width="1"/>
<g stroke="#a2a6ae" stroke-width="1.6" stroke-dasharray="2.4 7.42" stroke-dashoffset="-6.68"><line x1="35" y1="104" x2="1133" y2="104"/><line x1="35" y1="160.5" x2="1133" y2="160.5"/><line x1="35" y1="217" x2="1133" y2="217"/><line x1="35" y1="273.5" x2="1133" y2="273.5"/><line x1="35" y1="330" x2="1133" y2="330"/><line x1="35" y1="386.5" x2="1133" y2="386.5"/><line x1="35" y1="443" x2="1133" y2="443"/><line x1="35" y1="499.5" x2="1133" y2="499.5"/><line x1="35" y1="556" x2="1133" y2="556"/><line x1="35" y1="612.5" x2="1133" y2="612.5"/><line x1="35" y1="669" x2="1133" y2="669"/><line x1="35" y1="725.5" x2="1133" y2="725.5"/><line x1="35" y1="782" x2="1133" y2="782"/><line x1="35" y1="838.5" x2="1133" y2="838.5"/><line x1="35" y1="895" x2="1133" y2="895"/><line x1="92.8" y1="101.5" x2="92.8" y2="901" stroke-dashoffset="-5.05"/><line x1="187" y1="101.5" x2="187" y2="901" stroke-dashoffset="-5.05"/><line x1="281.2" y1="101.5" x2="281.2" y2="901" stroke-dashoffset="-5.05"/><line x1="375.5" y1="101.5" x2="375.5" y2="901" stroke-dashoffset="-5.05"/><line x1="469.8" y1="101.5" x2="469.8" y2="901" stroke-dashoffset="-5.05"/><line x1="564" y1="101.5" x2="564" y2="901" stroke-dashoffset="-5.05"/><line x1="658.2" y1="101.5" x2="658.2" y2="901" stroke-dashoffset="-5.05"/><line x1="752.5" y1="101.5" x2="752.5" y2="901" stroke-dashoffset="-5.05"/><line x1="846.8" y1="101.5" x2="846.8" y2="901" stroke-dashoffset="-5.05"/><line x1="941" y1="101.5" x2="941" y2="901" stroke-dashoffset="-5.05"/><line x1="1035.2" y1="101.5" x2="1035.2" y2="901" stroke-dashoffset="-5.05"/><line x1="1129.5" y1="101.5" x2="1129.5" y2="901" stroke-dashoffset="-5.05"/></g>
<g fill="none" stroke="#000" stroke-width="1.15" stroke-linejoin="round" stroke-linecap="round"><polyline points="104.4,101 105.6,106.2 107.5,112.5 106.2,108.8 108.8,108.1 112.5,108.1 121.2,112.5 124.4,116.2 123.8,118.8 127.5,125 130.6,130 133.1,137.5 133.8,140 131.2,143.1 131.9,147.5 135,153.1 142.5,152.5 147.5,150.6 152.5,151.2 158.8,149.4 161.2,146.9 165,148.1 170,142.5 171.2,137.5 170,131.2 173.8,122.5 177.5,116.2 180,112.5 181.9,106.2 181.9,101"/><polygon points="132.5,141.2 141.2,143.8 143.8,146.2 142.5,148.8 137.5,146.2 133.1,143.8"/><polyline points="180,116.2 178.8,122.5"/><polyline points="177.5,133.8 176.2,137.5"/><polyline points="173.8,142.5 165,155 157.5,163.8"/><polyline points="152.5,168.1 147.5,171.2"/><polyline points="142.5,173.8 133.8,177.5"/><polyline points="120,175 123.8,180"/><polyline points="117.5,178.8 112.5,181.2 107.5,183.8 101.2,186.2"/><polyline points="35,275.8 40,273.3 46.7,275 48.3,272.5 60,270.8 70,267.5 80,263.3 91.7,262.5 105,263.3 115,266.7 116.7,270 125,265 130,266.7 131.7,271.7 136.7,270 146.7,268.3 158.3,266.7 163.3,271.7 173.3,276.7 180,275.8 188.3,280 196.7,285 200,286.4 203.5,287 204.7,290.5 209.3,297.5 215.2,303.3 221,308 229.2,308 244.3,308 246.7,311.5 247.8,309.2 252.5,311.5 263,316.2 267.7,319.7 274.7,323.2 280.5,327.8 284,333.7 287.5,336 291,339.5 299.2,343 306.2,343 312,347.7 323.7,353.5 328.3,359.3 336.5,364 334.2,368.7 340,366.4 345.2,370.8 350.5,372.5 359.2,372.5 368,376 371.5,381.2 380,380 386.5,378.9 391.9,381 394.6,385.9 394,390.2 390.2,392.4 387,395.6 386.5,401 389.7,403.1 393,401 395,399.5 397.3,400 399.4,401 403.7,402 408,405.3 411.3,403.1 415.6,403.1 423.1,403.7 434,408.5 440.4,416.1 444.7,421.5 451.2,425.8 457.7,425.3 463,430.1 462,435.5 457.7,438.8 444.7,439.8 431.8,442 425.3,444.1 421,446.3 415.6,448.5 401.6,449 390.8,446.3 375,445.1 357.5,444.2 336.5,446 322.5,448.6 305,449.5 294.5,453 294.5,449.5 301.5,440.8 313.8,428.5 322.5,418 323.4,412.8 319,407.5 315.5,402.2 308.5,402.2 296.2,404 285.8,400.5 275.2,397 270,395.2 263,390 257.2,380 256,368.7 252.5,359.3 247.8,354.7 246.7,350.6 242,351.2 232.7,353 223.3,355.8 211.7,352.3 204.7,348.8 200,347 190,344.2 183.3,340 173.3,335 168.3,326.7 163.3,320 163.3,325.8 146.7,326.7 136.7,325.8 130.8,326.7 130,315 126.7,324.2 121.7,321.7 113.3,319.2 101.7,318.3 93.3,313.3 85,308.3 86.7,305.8 100,305 106.7,303.3 109.2,298.3 103.3,294.2 91.7,291.7 73.3,290.8 56.7,290.8 50,296.7 41.7,303.3 35,310.8"/><polyline points="204.7,284.7 210,289 218,294"/><polyline points="230.3,292.2 236.2,292.2"/><polygon points="249,299.8 254,299 261.8,298 266.5,302.2 270,305 274.7,305.7 278.2,310.3 277,313.8 272.3,312.7 270,309.2 263,305.7 254.8,303.3 249,301"/><polyline points="286.3,312.7 292.2,320.2"/><polygon points="284,326.7 288.7,324.3 298,326.7 298,332.5 291,331.3"/><polygon points="300.3,334.8 305,337.2 309.7,343 322.5,352.3 321.3,359.3 315.5,358.2 314.3,352.3 307.3,346.5 301.5,338.3"/><polygon points="138,264.5 145,264 150,266 143,267.5"/><polygon points="171.7,273.3 178,274 180,276.7 174,276"/><polygon points="205,284 212,288 218.3,294 214,292"/><polygon points="46.7,333.3 41.7,341.7 46.7,351.7 38.3,353.3 40,358.3 50,361.7 63.3,356.7 65,348.3 60,336.7 51.7,333.3"/><polyline points="114.2,351.7 121.7,346.7"/><polyline points="216.6,380 219,382"/><polyline points="224.3,387.8 233.5,392.4"/><polyline points="242.8,398.5 247,400"/><polyline points="252,401.6 255,402.5"/><polyline points="258,403.2 264.3,411"/><polygon points="121,477.2 122.5,483.3 128.7,484.9 136.4,481.8 130,478.7 125.6,480.2"/><polyline points="182,461.8 187.2,459.3"/><polyline points="192,459.3 198,457.1"/><polygon points="264,541 265,536 271,531 281,530 285,527 288,526.2 295,527.5 303,528.5 311,530 319,532 325,533 332,533.5 335,537 339,540.5 345,543 351,545 358,546.5 361,550 363,556 365.5,560.5 362,562.5 355,563.5 349,564 345,561 340,559 337,558 334,560 331,565 327,562.5 322,564 320,569 321.5,571.5 320,573.5 315,569 310,565 303,564 294,564 289,558 285,554.5 280,549 277,544.5 270,544"/><polygon points="271.6,149.7 277,150.8 281.3,151.9 282.4,157.3 284.5,161.6 286.7,167 291,173.4 294.2,178.8 293.7,184.2 294.2,189.6 289.9,192.9 285.6,195 281.3,198.8 277,196.1 273.7,190.7 267.3,186.4 261.9,183.1 262.9,179.9 266.2,176.7 267.3,172.4 271.6,167 272.7,161.6 273.7,156.2 271.6,150.8"/><polygon points="265.1,177.8 270,180 270.5,184.2 267.3,183.7 266.2,181"/><polygon points="285.6,201.5 292.1,202.6 297.5,202 302.9,209 303.9,217.7 302.9,222 303.9,225.2 301.8,231.7 296.4,232.8 292.1,229.5 291,224.1 288.8,217.7 286.7,212.3 284.5,206.9"/><polygon points="293.1,209 297.5,204.7 294.2,214.4"/><polyline points="292,198.3 296.4,196.5"/><polyline points="281,202 283,203"/><polyline points="310.4,101.5 314.9,105.3 316.4,109 319.4,110.6 318.7,101.5"/><polyline points="286.2,115.9 290,119.6"/><ellipse cx="309" cy="158.5" rx="6.8" ry="2.6" transform="rotate(-5 309 158.5)"/><polygon points="340.6,128.7 343.6,128.7 342.8,134 346.6,136.2 358.7,141.5 364.7,148.3 370,154.3 369.3,163.4 367.8,171 367,178.5 360.2,171 366.2,166.4 367.8,157.4 363.2,148.3 355.7,140.8 346.6,137.7 339.8,136.2"/><polyline points="349.6,200.4 352.7,204.2"/><polyline points="357.2,211 360.2,217"/><polygon points="388.1,178.5 391.9,179.3 394.9,187.6 401,196.6 407.8,205.7 407,208.7 399.5,208.7 402.5,205.7 398,196.6 391.9,186"/><ellipse cx="447" cy="213.5" rx="3.5" ry="4.5"/><ellipse cx="429" cy="234.5" rx="4" ry="1.8"/><polygon points="374.2,235.6 378.3,236.7 384.6,242.9 398.1,250.2 388.8,245 376.2,239.8"/><polygon points="406.5,236.7 409.6,235.6 411.7,242.9 415.8,251.2 417.9,261.7 424.2,267.9 429.4,276.2 429.4,280.4 426.2,272.1 420,267.9 413.8,263.8 417.9,259.6 413.8,247 409.6,240.8"/><ellipse cx="430" cy="234.6" rx="4" ry="2"/><ellipse cx="481.2" cy="267" rx="3" ry="1.6"/><polygon points="453.3,282.5 461.7,286.7 467.9,288.8 466.9,291.9 457.5,290.8 453.3,297 455.4,290.8"/><polygon points="470,288.8 477.3,288.8 477.3,301.2 470,309.6 461.7,315.8 456.5,320 457.5,315.8 467.9,307.5 474.2,299.2 472,292.9"/><polyline points="490.8,294 495,296"/><polygon points="509.6,305.4 515.8,304.4 524.2,308.5 529.4,311.7 526.2,313.8 520,309.6 511.7,309.6"/><polygon points="562.7,333.5 568,333.5 569,337.7 565,337"/><polygon points="572,338.8 579.4,339.8 580.4,343 573,342"/><polyline points="584.6,345 589.8,347"/><polygon points="548,338.8 555.4,343 549,343"/><polyline points="542,345 542.5,347.5"/><polygon points="484.8,384.7 486.3,389.3 498.7,389.3 508,384.7 515.6,375.4 517,367.7 511,370.8 504.8,378.5 492.5,380 486.3,381.6"/><ellipse cx="517" cy="358.5" rx="3.5" ry="3" transform="rotate(-30 517 358.5)"/><polyline points="604,356.7 605.5,360.8"/><polygon points="495,460 496,454 500,452 508,448 516,447 526,446 536,450 548,456 556,458 566,460 572,462 576,460 578,454 580,450 592,448 604,452 612,448 620,448 632,454 640,458.1 645.2,462.7 652.9,464.6 656.8,460.7 662,462 664.6,469.8 665.9,477.5 671.1,482.7 682.7,480.8 689.2,482.1 694.4,479.5 697.6,484.7 695.7,488.5 689.2,489.2 677.5,487.9 675.6,491.8 677.5,495 685.3,494.4 694.4,498.9 702.1,500.8 707.3,498.2 717.7,502.1 725.4,509.9 737.1,521.6 731.9,531.9 730.6,535.8 725.4,535.8 721.5,542.3 717.7,544.9 712.5,538.4 707.3,532.6 703.4,533.9 694.4,530.6 681.4,532.6 675,530.6 663.3,529.3 656.8,533.2 649.1,543.6 640,542.5 634.8,544.4 632.3,541.2 629.7,533.4 625.8,532.1 618,536 612.8,538.6 607.7,540 606.4,552.8 602.5,560.6 596,571 592.1,577.4 588.3,573.6 585.7,569.7 581.8,568.4 579.2,558 575.3,552.8 572.7,550.3 567.5,545 559.8,542.5 537.8,543.8 530,545 520,545 510,546 496,544 484,546 480,552 476,554 474,548 464,544 454,540 448,534 448,524 454,520 466,519 480,522 488,524 506,526 520,528 530,528.3 539,525.7 546.8,524.4 548.1,519.2 543,514 535.2,507.5 528,494 526,488 528,482 531,476 526,472 516,467 506,465 496,464"/><polyline points="578,455 576,481.6 579.2,485.5 581.8,489.4 580.5,494.6 575.3,499.8 571.4,501 574.7,505 577.2,511.4 576.6,516.6 571.4,520.5 566.2,521.8 567.5,529.5 575.3,536 576.6,542.5 575.3,552.8"/><polygon points="573,526 580,527 586,531 584,533.4 576,531"/><ellipse cx="514.5" cy="508.5" rx="12" ry="3.8" transform="rotate(25 514.5 508.5)"/><ellipse cx="496.5" cy="552" rx="2.5" ry="1"/><ellipse cx="588" cy="556" rx="1.2" ry="1.2"/><polygon points="715.7,546.1 720.3,544.9 725.4,547.4 721.5,549.4 716.4,548.1"/><ellipse cx="757.5" cy="551" rx="2.5" ry="1.8"/><ellipse cx="526.5" cy="440.5" rx="7" ry="2.5" transform="rotate(8 526.5 440.5)"/><polygon points="791,528 792,532 788,536 789,540 791,546 790,556 792,559 800,558 810,557 820,557 830,558 838,560 848,557 854,555 860,546 865,542 864,535 856,532 846,530 840,529 820,528 800,527"/><polygon points="867,550 872,547 880,547 878,550 870,551.6"/><ellipse cx="880" cy="538" rx="2" ry="2"/><polyline points="892,535 900,537 902,538"/><polygon points="905,538 909,533 914,530.5 912,533 907,538"/><polygon points="899,569 906,568 915,570 910,572 900,574"/><polyline points="921.7,513.3 928.3,515.8"/><polygon points="920.8,526.7 925.8,526.7 921.5,530.8"/><polygon points="980,546.3 984,542.5 988.5,541 987.5,544 983,546"/><ellipse cx="984.6" cy="552" rx="2.8" ry="3"/><polyline points="994,560 996.7,561.7"/><polyline points="988.3,584 989.5,586.5"/><polygon points="995,590.8 1000,591.7 1004.2,596.7 1005.8,600 1000,596.7 995,595"/><ellipse cx="1008.3" cy="604" rx="2.5" ry="3.3"/><ellipse cx="1044.6" cy="577" rx="3.8" ry="4.6" transform="rotate(-20 1044.6 577)"/><ellipse cx="1045.4" cy="608" rx="5" ry="5"/><ellipse cx="1026.7" cy="627" rx="2.5" ry="3.8"/><polygon points="1046.6,650.3 1053.6,653.1 1056.5,660.8 1055,667.9 1051.5,671.4 1047.3,666.5 1045.2,658"/><polygon points="1057.8,642.6 1061.4,640.5 1063.5,644 1064.9,649.6 1070.5,652.4 1074.7,655.2 1066.3,656 1057.8,657.3 1056.5,653.8 1058.5,648.2"/><polyline points="1078.9,651.7 1083.1,649.6"/><ellipse cx="1070.7" cy="673" rx="3.8" ry="3.5"/><polygon points="1060,690.3 1064.9,691.7 1069.1,697.3 1070.5,707.1 1066.3,714.1 1063.5,710 1060.7,700.1 1059.3,694.5"/><polygon points="1072.6,733.7 1077.5,733 1083.1,736.5 1085.9,740.8 1085.9,745 1088.7,750.6 1090.8,756.2 1090.1,759 1084.5,757.6 1078.9,754.8 1078.2,752 1081.7,750.6 1081.7,747.8 1078.9,746.4 1074.7,740.8 1071.9,735.1"/><polygon points="1084.6,776.8 1087.9,780.7 1088.5,785.9 1087.2,795 1085.3,798.6 1080.1,795.6 1078.8,788.5 1081.4,782"/><ellipse cx="1073.3" cy="823.7" rx="4.2" ry="6.8" transform="rotate(10 1073.3 823.7)"/><polyline points="1069.8,838.6 1073,836.3"/><polyline points="1068.6,852.5 1066.8,856.3"/><polygon points="1059.4,867 1063.3,865.4 1063,870 1060,869.5"/><polyline points="34.8,723.8 39.5,725.9 34.8,730.7"/><polyline points="34.8,750 37.8,762.2 34.8,770"/><polygon points="55.5,761.5 59,758.3 59,761.7"/><polyline points="106,859.7 107.5,867.4"/><polyline points="121.5,816.5 123,821"/><polyline points="552.8,902 556.5,892.7 555.6,882.6 560.2,880.8 564.8,881.7 565.7,885.3 569.3,881.7 569.3,878 572.1,875.2 576.7,872.5 578.5,869.8 584,869.8 595,874.3 600.5,879.8 604.2,887.2 605.1,894.5 596.8,902"/><polygon points="564.5,880 569,879.5 568,885 565,885"/><polygon points="577,871 582,870 580,874"/><polyline points="644.5,902 648.2,889 657.3,884.4 662.8,889 666.5,901"/><polygon points="655.5,860.6 659.2,863.3 663.8,870.7 661,871.6 657.3,867"/><polygon points="698.6,873.4 701.3,878 708.7,884.4 716,890 714.2,892.3 706.8,889 699.5,882.6 697.7,876.2"/><polygon points="734.3,878 738.9,880.8 742.6,883.5 743.1,889 740.8,893.6 738.9,887.2 734.3,881.7"/></g>
</g>
<g fill="#a0a0a0"><text x="5" y="109" font-size="13.5" font-weight="bold" textLength="20" lengthAdjust="spacingAndGlyphs">26N</text><rect x="28.5" y="103.4" width="2.5" height="1.3"/><text x="5" y="165.5" font-size="13.5" font-weight="bold" textLength="20" lengthAdjust="spacingAndGlyphs">25N</text><rect x="28.5" y="159.9" width="2.5" height="1.3"/><text x="5" y="222" font-size="13.5" font-weight="bold" textLength="20" lengthAdjust="spacingAndGlyphs">24N</text><rect x="28.5" y="216.4" width="2.5" height="1.3"/><text x="5" y="278.5" font-size="13.5" font-weight="bold" textLength="20" lengthAdjust="spacingAndGlyphs">23N</text><rect x="28.5" y="272.9" width="2.5" height="1.3"/><text x="5" y="335" font-size="13.5" font-weight="bold" textLength="20" lengthAdjust="spacingAndGlyphs">22N</text><rect x="28.5" y="329.4" width="2.5" height="1.3"/><text x="5" y="391.5" font-size="13.5" font-weight="bold" textLength="20" lengthAdjust="spacingAndGlyphs">21N</text><rect x="28.5" y="385.9" width="2.5" height="1.3"/><text x="5" y="448" font-size="13.5" font-weight="bold" textLength="20" lengthAdjust="spacingAndGlyphs">20N</text><rect x="28.5" y="442.4" width="2.5" height="1.3"/><text x="5" y="504.5" font-size="13.5" font-weight="bold" textLength="20" lengthAdjust="spacingAndGlyphs">19N</text><rect x="28.5" y="498.9" width="2.5" height="1.3"/><text x="5" y="561" font-size="13.5" font-weight="bold" textLength="20" lengthAdjust="spacingAndGlyphs">18N</text><rect x="28.5" y="555.4" width="2.5" height="1.3"/><text x="5" y="617.5" font-size="13.5" font-weight="bold" textLength="20" lengthAdjust="spacingAndGlyphs">17N</text><rect x="28.5" y="611.9" width="2.5" height="1.3"/><text x="5" y="674" font-size="13.5" font-weight="bold" textLength="20" lengthAdjust="spacingAndGlyphs">16N</text><rect x="28.5" y="668.4" width="2.5" height="1.3"/><text x="5" y="730.5" font-size="13.5" font-weight="bold" textLength="20" lengthAdjust="spacingAndGlyphs">15N</text><rect x="28.5" y="724.9" width="2.5" height="1.3"/><text x="5" y="787" font-size="13.5" font-weight="bold" textLength="20" lengthAdjust="spacingAndGlyphs">14N</text><rect x="28.5" y="781.4" width="2.5" height="1.3"/><text x="5" y="843.5" font-size="13.5" font-weight="bold" textLength="20" lengthAdjust="spacingAndGlyphs">13N</text><rect x="28.5" y="837.9" width="2.5" height="1.3"/><text x="5" y="900" font-size="13.5" font-weight="bold" textLength="20" lengthAdjust="spacingAndGlyphs">12N</text><rect x="28.5" y="894.4" width="2.5" height="1.3"/><text x="92.8" y="918.7" font-size="13.5" font-weight="bold" text-anchor="middle" textLength="22" lengthAdjust="spacingAndGlyphs">82W</text><rect x="92.2" y="904.5" width="1.3" height="2.5"/><text x="187" y="918.7" font-size="13.5" font-weight="bold" text-anchor="middle" textLength="22" lengthAdjust="spacingAndGlyphs">80W</text><rect x="186.4" y="904.5" width="1.3" height="2.5"/><text x="281.2" y="918.7" font-size="13.5" font-weight="bold" text-anchor="middle" textLength="22" lengthAdjust="spacingAndGlyphs">78W</text><rect x="280.6" y="904.5" width="1.3" height="2.5"/><text x="375.5" y="918.7" font-size="13.5" font-weight="bold" text-anchor="middle" textLength="22" lengthAdjust="spacingAndGlyphs">76W</text><rect x="374.9" y="904.5" width="1.3" height="2.5"/><text x="469.8" y="918.7" font-size="13.5" font-weight="bold" text-anchor="middle" textLength="22" lengthAdjust="spacingAndGlyphs">74W</text><rect x="469.1" y="904.5" width="1.3" height="2.5"/><text x="564" y="918.7" font-size="13.5" font-weight="bold" text-anchor="middle" textLength="22" lengthAdjust="spacingAndGlyphs">72W</text><rect x="563.4" y="904.5" width="1.3" height="2.5"/><text x="658.2" y="918.7" font-size="13.5" font-weight="bold" text-anchor="middle" textLength="22" lengthAdjust="spacingAndGlyphs">70W</text><rect x="657.6" y="904.5" width="1.3" height="2.5"/><text x="752.5" y="918.7" font-size="13.5" font-weight="bold" text-anchor="middle" textLength="22" lengthAdjust="spacingAndGlyphs">68W</text><rect x="751.9" y="904.5" width="1.3" height="2.5"/><text x="846.8" y="918.7" font-size="13.5" font-weight="bold" text-anchor="middle" textLength="22" lengthAdjust="spacingAndGlyphs">66W</text><rect x="846.1" y="904.5" width="1.3" height="2.5"/><text x="941" y="918.7" font-size="13.5" font-weight="bold" text-anchor="middle" textLength="22" lengthAdjust="spacingAndGlyphs">64W</text><rect x="940.4" y="904.5" width="1.3" height="2.5"/><text x="1035.2" y="918.7" font-size="13.5" font-weight="bold" text-anchor="middle" textLength="22" lengthAdjust="spacingAndGlyphs">62W</text><rect x="1034.7" y="904.5" width="1.3" height="2.5"/><text x="1129.5" y="918.7" font-size="13.5" font-weight="bold" text-anchor="middle" textLength="22" lengthAdjust="spacingAndGlyphs">60W</text><rect x="1128.9" y="904.5" width="1.3" height="2.5"/></g>
<rect x="1144.2" y="97.6" width="18.6" height="806.8" fill="#d6d6d6"/>
<rect x="1145.9" y="99.3" width="15.7" height="44.6" fill="#e8e8e8"/>
<rect x="1145.9" y="144" width="15.7" height="44.6" fill="#eef4d4"/>
<rect x="1145.9" y="188.6" width="15.7" height="44.6" fill="#e4f09c"/>
<rect x="1145.9" y="233.3" width="15.7" height="44.6" fill="#a8cc64"/>
<rect x="1145.9" y="277.9" width="15.7" height="44.6" fill="#e2e614"/>
<rect x="1145.9" y="322.6" width="15.7" height="44.6" fill="#ffe600"/>
<rect x="1145.9" y="367.2" width="15.7" height="44.6" fill="#ffe882"/>
<rect x="1145.9" y="411.9" width="15.7" height="44.6" fill="#f2cf80"/>
<rect x="1145.9" y="456.5" width="15.7" height="44.6" fill="#eba44c"/>
<rect x="1145.9" y="501.2" width="15.7" height="44.6" fill="#e68b3c"/>
<rect x="1145.9" y="545.9" width="15.7" height="44.6" fill="#d97a3c"/>
<rect x="1145.9" y="590.5" width="15.7" height="44.6" fill="#e6003c"/>
<rect x="1145.9" y="635.1" width="15.7" height="44.6" fill="#e650a0"/>
<rect x="1145.9" y="679.8" width="15.7" height="44.6" fill="#9b6ea8"/>
<rect x="1145.9" y="724.5" width="15.7" height="44.6" fill="#6464ff"/>
<rect x="1145.9" y="769.1" width="15.7" height="44.6" fill="#7890ff"/>
<rect x="1145.9" y="813.8" width="15.7" height="44.6" fill="#8cacff"/>
<rect x="1145.9" y="858.4" width="15.7" height="44.6" fill="#b8c8fc"/>
<rect x="1145.9" y="143.5" width="15.7" height="1" fill="#fff" fill-opacity="0.6"/>
<rect x="1145.9" y="188.1" width="15.7" height="1" fill="#fff" fill-opacity="0.6"/>
<rect x="1145.9" y="232.8" width="15.7" height="1" fill="#fff" fill-opacity="0.6"/>
<rect x="1145.9" y="277.4" width="15.7" height="1" fill="#fff" fill-opacity="0.6"/>
<rect x="1145.9" y="322.1" width="15.7" height="1" fill="#fff" fill-opacity="0.6"/>
<rect x="1145.9" y="366.8" width="15.7" height="1" fill="#fff" fill-opacity="0.6"/>
<rect x="1145.9" y="411.4" width="15.7" height="1" fill="#fff" fill-opacity="0.6"/>
<rect x="1145.9" y="456" width="15.7" height="1" fill="#fff" fill-opacity="0.6"/>
<rect x="1145.9" y="500.7" width="15.7" height="1" fill="#fff" fill-opacity="0.6"/>
<rect x="1145.9" y="545.4" width="15.7" height="1" fill="#fff" fill-opacity="0.6"/>
<rect x="1145.9" y="590" width="15.7" height="1" fill="#fff" fill-opacity="0.6"/>
<rect x="1145.9" y="634.6" width="15.7" height="1" fill="#fff" fill-opacity="0.6"/>
<rect x="1145.9" y="679.3" width="15.7" height="1" fill="#fff" fill-opacity="0.6"/>
<rect x="1145.9" y="724" width="15.7" height="1" fill="#fff" fill-opacity="0.6"/>
<rect x="1145.9" y="768.6" width="15.7" height="1" fill="#fff" fill-opacity="0.6"/>
<rect x="1145.9" y="813.2" width="15.7" height="1" fill="#fff" fill-opacity="0.6"/>
<rect x="1145.9" y="857.9" width="15.7" height="1" fill="#fff" fill-opacity="0.6"/>
<text x="1167" y="148.4" font-size="12" fill="#000" letter-spacing="0.4">1.446</text>
<text x="1167" y="193" font-size="12" fill="#000" letter-spacing="0.4">1.44</text>
<text x="1167" y="237.7" font-size="12" fill="#000" letter-spacing="0.4">1.434</text>
<text x="1167" y="282.3" font-size="12" fill="#000" letter-spacing="0.4">1.428</text>
<text x="1167" y="327" font-size="12" fill="#000" letter-spacing="0.4">1.422</text>
<text x="1167" y="371.6" font-size="12" fill="#000" letter-spacing="0.4">1.416</text>
<text x="1167" y="416.3" font-size="12" fill="#000" letter-spacing="0.4">1.41</text>
<text x="1167" y="460.9" font-size="12" fill="#000" letter-spacing="0.4">1.404</text>
<text x="1167" y="505.6" font-size="12" fill="#000" letter-spacing="0.4">1.398</text>
<text x="1167" y="550.2" font-size="12" fill="#000" letter-spacing="0.4">1.392</text>
<text x="1167" y="594.9" font-size="12" fill="#000" letter-spacing="0.4">1.386</text>
<text x="1167" y="639.5" font-size="12" fill="#000" letter-spacing="0.4">1.38</text>
<text x="1167" y="684.2" font-size="12" fill="#000" letter-spacing="0.4">1.374</text>
<text x="1167" y="728.9" font-size="12" fill="#000" letter-spacing="0.4">1.368</text>
<text x="1167" y="773.5" font-size="12" fill="#000" letter-spacing="0.4">1.362</text>
<text x="1167" y="818.1" font-size="12" fill="#000" letter-spacing="0.4">1.356</text>
<text x="1167" y="862.8" font-size="12" fill="#000" letter-spacing="0.4">1.35</text>
<rect x="915.9" y="877.9" width="208.2" height="19.6" fill="#fff" stroke="#a8a8a8" stroke-width="1"/>
<text x="931.4" y="893.4" font-size="14.3" fill="#1ea0ff" textLength="21" lengthAdjust="spacingAndGlyphs">Sis</text>
<text transform="translate(952.5 893.4) scale(1 1.4)" font-size="13.5" fill="#2424e0" textLength="16.5" lengthAdjust="spacingAndGlyphs">ππ</text>
<text x="975" y="893.4" font-size="13.5" fill="#555">−</text>
<text x="993" y="893.4" font-size="14.3" fill="#505050" textLength="125" lengthAdjust="spacingAndGlyphs">ONAMET/REP.DOM.</text>
</svg></body></html>
